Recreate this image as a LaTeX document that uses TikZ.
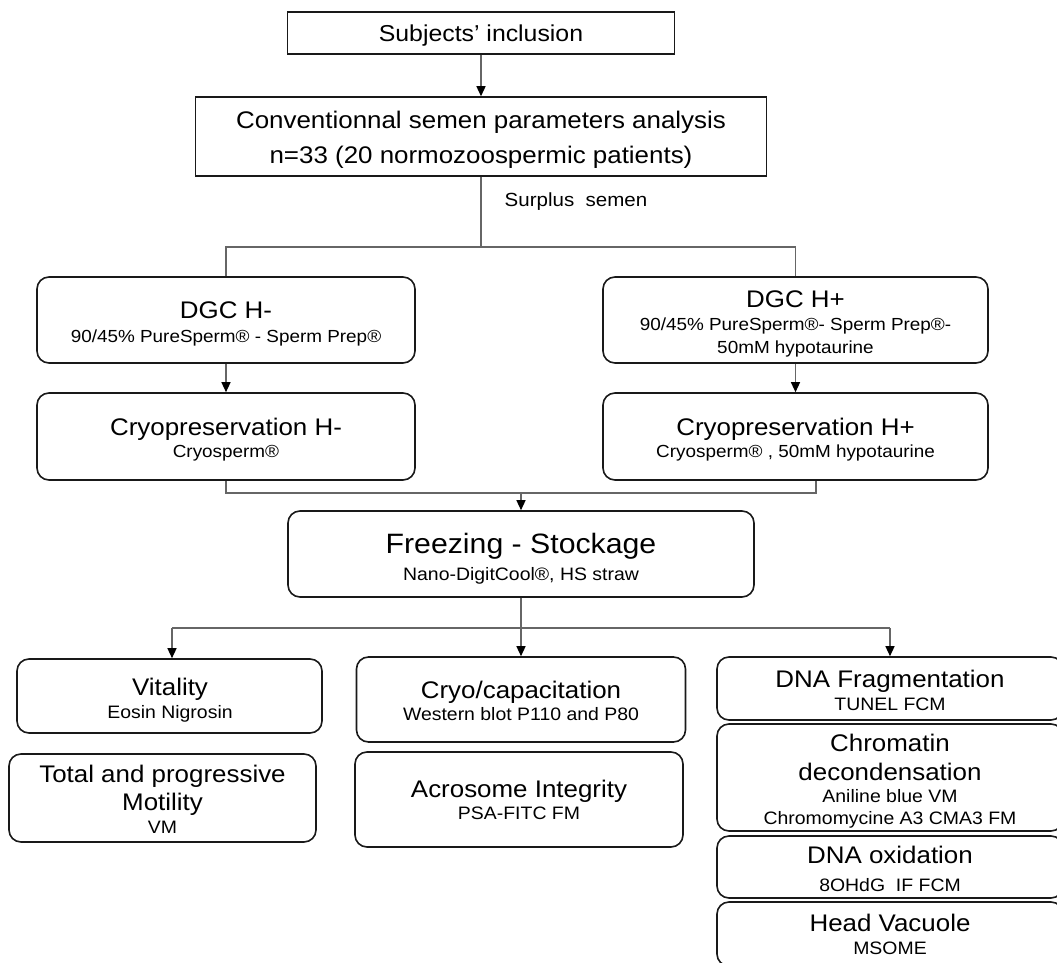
\documentclass[tikz,border=0pt]{standalone}
\usepackage{fontspec}
\setmainfont[FakeStretch=1.08]{Liberation Sans}
\usetikzlibrary{arrows.meta}
\newcommand\lbltxt[5]{\node[anchor=base,inner sep=0pt,font=\fontsize{#4}{#4}\selectfont] (#1) at (#2,{#3+0.36*#4}) {#5};}
\begin{document}
\begin{tikzpicture}[x=1pt,y=-1pt,
  box/.style={draw=black!90, line width=1.6pt, rounded corners=12pt, inner sep=0pt},
  sqbox/.style={draw=black!90, line width=1.5pt, inner sep=0pt},
  conn/.style={draw=black!60, line width=1.3pt},
  arr/.style={conn, -{Triangle[length=10pt,width=9pt,color=black]}}]
\clip (0,0) rectangle (1057,963);
\fill[white] (0,0) rectangle (1057,963);

% boxes
\node[sqbox, minimum width=387pt, minimum height=42pt] (subj) at (481,33) {};
\node[sqbox, minimum width=571pt, minimum height=79pt] (conv) at (481,136.5) {};
\node[box, minimum width=378pt, minimum height=86pt] (dgcm) at (226,320) {};
\node[box, minimum width=385pt, minimum height=86pt] (dgcp) at (795.5,320) {};
\node[box, minimum width=378pt, minimum height=87pt] (cryom) at (226,436.5) {};
\node[box, minimum width=385pt, minimum height=87pt] (cryop) at (795.5,436.5) {};
\node[box, minimum width=466pt, minimum height=86pt] (freeze) at (521,554) {};
\node[box, minimum width=305pt, minimum height=74pt] (vital) at (169.5,696) {};
\node[box, minimum width=307pt, minimum height=88pt] (motil) at (162.5,798) {};
\node[box, minimum width=329pt, minimum height=85pt] (cryocap) at (521,699.5) {};
\node[box, minimum width=328pt, minimum height=95pt] (acro) at (519,799.5) {};
\node[box, minimum width=346pt, minimum height=63pt] (dnaf) at (890,688.5) {};
\node[box, minimum width=346pt, minimum height=107pt] (chrom) at (890,777.5) {};
\node[box, minimum width=346pt, minimum height=62pt] (dnaox) at (890,867) {};
\node[box, minimum width=346pt, minimum height=64pt] (headv) at (890,934) {};

% connectors
\coordinate (br) at (481,247);
\coordinate (mL) at (226,493);
\coordinate (mR) at (816,493);
\coordinate (mC) at (521,493);
\coordinate (dL) at (172,628);
\coordinate (dR) at (890,628);
\draw[arr] (subj) -- (conv);
\draw[conn] (conv.south) -- (br);
\draw[conn] (br) -| (dgcm.north);
\draw[conn] (br) -| (dgcp.north);
\draw[arr] (dgcm) -- (cryom);
\draw[arr] (dgcp) -- (cryop);
\draw[conn] (cryom.south) -- (mL) -- (mR) -- (mR |- cryop.south);
\draw[arr] (mC) -- (freeze.north);
\draw[arr] (freeze.south) -- (cryocap.north);
\draw[conn] (dL) -- (dR);
\draw[arr] (dL) -- (dL |- vital.north);
\draw[arr] (dR) -- (dR |- dnaf.north);

% texts
\lbltxt{tsubj}{481}{33}{23}{Subjects’ inclusion}
\lbltxt{tconv1}{481}{120}{24}{Conventionnal semen parameters analysis}
\lbltxt{tconv2}{481}{155}{24}{n=33 (20 normozoospermic patients)}
\lbltxt{tsurp}{576}{200}{19}{Surplus\ \ semen}
\lbltxt{tdgcm1}{226}{310}{24}{DGC H-}
\lbltxt{tdgcm2}{226}{336}{17.5}{90/45\% PureSperm® - Sperm Prep®}
\lbltxt{tdgcp1}{795.5}{299}{24}{DGC H+}
\lbltxt{tdgcp2}{795.5}{324}{17.5}{90/45\% PureSperm®- Sperm Prep®-}
\lbltxt{tdgcp3}{795.5}{347}{17.5}{50mM hypotaurine}
\lbltxt{tcrm1}{226}{427}{24}{Cryopreservation H-}
\lbltxt{tcrm2}{226}{451}{17.5}{Cryosperm®}
\lbltxt{tcrp1}{795.5}{427}{24}{Cryopreservation H+}
\lbltxt{tcrp2}{795.5}{451}{17.5}{Cryosperm® , 50mM hypotaurine}
\lbltxt{tfr1}{521}{543}{28}{Freezing - Stockage}
\lbltxt{tfr2}{521}{574}{18}{Nano-DigitCool®, HS straw}
\lbltxt{tvit1}{170}{687}{24}{Vitality}
\lbltxt{tvit2}{170}{712}{18}{Eosin Nigrosin}
\lbltxt{tmot1}{162.5}{774}{24}{Total and progressive}
\lbltxt{tmot2}{162.5}{802}{24}{Motility}
\lbltxt{tmot3}{162.5}{827}{18}{VM}
\lbltxt{tcc1}{521}{690}{24}{Cryo/capacitation}
\lbltxt{tcc2}{521}{714}{18}{Western blot P110 and P80}
\lbltxt{tac1}{519}{789}{24}{Acrosome Integrity}
\lbltxt{tac2}{519}{813}{18}{PSA-FITC FM}
\lbltxt{tdf1}{890}{679}{24}{DNA Fragmentation}
\lbltxt{tdf2}{890}{704}{18}{TUNEL FCM}
\lbltxt{tch1}{890}{743}{24}{Chromatin}
\lbltxt{tch2}{890}{772}{24}{decondensation}
\lbltxt{tch3}{890}{796}{18}{Aniline blue VM}
\lbltxt{tch4}{890}{818}{18}{Chromomycine A3 CMA3 FM}
\lbltxt{tox1}{890}{855}{24}{DNA oxidation}
\lbltxt{tox2}{890}{885}{18}{8OHdG\ \ IF FCM}
\lbltxt{thv1}{890}{923}{24}{Head Vacuole}
\lbltxt{thv2}{890}{948}{18}{MSOME}
\end{tikzpicture}
\end{document}
